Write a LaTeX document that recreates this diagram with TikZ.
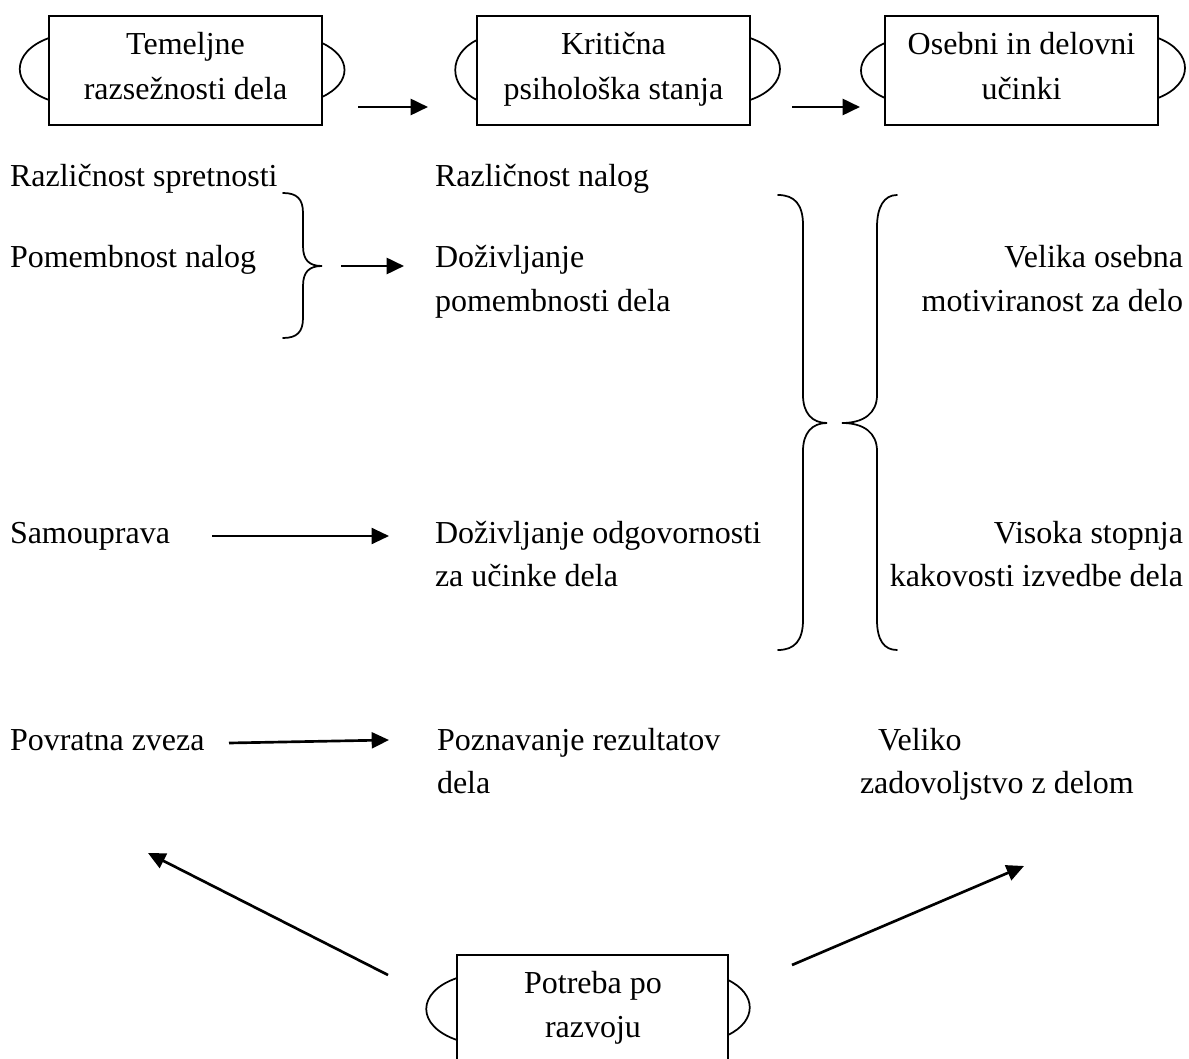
\documentclass[tikz,border=0pt]{standalone}
\usepackage{fontspec}
\setmainfont{Liberation Serif}
\usetikzlibrary{arrows.meta,calc}
\begin{document}
\begin{tikzpicture}[x=0.75pt,y=-0.75pt,
  lbl/.style={inner sep=0pt,outer sep=0pt,font=\fontsize{24pt}{32pt}\selectfont},
  hbox/.style={draw,line width=1.5,inner sep=0pt,minimum width=273*0.75pt,minimum height=109*0.75pt},
  ear/.style={line width=1.3},
  brace/.style={line width=1.3,line cap=round},
  arr/.style={line width=2,-{Triangle[length=13pt,width=12pt]}}]
\useasboundingbox (0,0) rectangle (1189,1059);
\clip (0,0) rectangle (1189,1059);

% header boxes
\node[hbox] (b1) at (185.5,70.5) {};
\node[hbox] (b2) at (613.5,70.5) {};
\node[hbox] (b3) at (1021.5,70.5) {};
\node[hbox,minimum width=271*0.75pt,minimum height=120*0.75pt] (b4) at (592.5,1015) {};

% side ears of the boxes
\draw[ear] (49,38) .. controls (10,52) and (10,86) .. (49,100);
\draw[ear] (322,43) .. controls (352,57) and (352,83) .. (322,97);
\draw[ear] (477,40) .. controls (448,54) and (448,86) .. (477,100);
\draw[ear] (750,38) .. controls (790,52) and (790,86) .. (750,100);
\draw[ear] (885,43) .. controls (853,57) and (853,84) .. (885,98);
\draw[ear] (1158,38) .. controls (1194,52) and (1194,84) .. (1158,98);
\draw[ear] (457,978) .. controls (416,992) and (416,1026) .. (457,1040);
\draw[ear] (728,980) .. controls (757,994) and (757,1021) .. (728,1035);

% box titles
\node[lbl,anchor=base] (h1a) at (185.5,55) {Temeljne};
\node[lbl,anchor=base] (h1b) at (185.5,100) {razsežnosti dela};
\node[lbl,anchor=base] (h2a) at (613.5,55) {Kritična};
\node[lbl,anchor=base] (h2b) at (613.5,100) {psihološka stanja};
\node[lbl,anchor=base] (h3a) at (1021.5,55) {Osebni in delovni};
\node[lbl,anchor=base] (h3b) at (1021.5,100) {učinki};
\node[lbl,anchor=base] (h4a) at (593,993) {Potreba po};
\node[lbl,anchor=base] (h4b) at (593,1037) {razvoju};

% left column
\node[lbl,anchor=base west] (l1) at (10,187) {Različnost spretnosti};
\node[lbl,anchor=base west] (l2) at (10,268) {Pomembnost nalog};
\node[lbl,anchor=base west] (l3) at (10,543) {Samouprava};
\node[lbl,anchor=base west] (l4) at (10,750) {Povratna zveza};

% middle column
\node[lbl,anchor=base west] (m1) at (435,187) {Različnost nalog};
\node[lbl,anchor=base west] (m2a) at (435,268) {Doživljanje};
\node[lbl,anchor=base west] (m2b) at (435,312) {pomembnosti dela};
\node[lbl,anchor=base west] (m3a) at (435,543) {Doživljanje odgovornosti};
\node[lbl,anchor=base west] (m3b) at (435,586) {za učinke dela};
\node[lbl,anchor=base west] (m4a) at (437,750) {Poznavanje rezultatov};
\node[lbl,anchor=base west] (m4b) at (437,793) {dela};

% right column
\node[lbl,anchor=base east] (r1a) at (1183,268) {Velika osebna};
\node[lbl,anchor=base east] (r1b) at (1183,312) {motiviranost za delo};
\node[lbl,anchor=base east] (r2a) at (1183,543) {Visoka stopnja};
\node[lbl,anchor=base east] (r2b) at (1183,586) {kakovosti izvedbe dela};
\node[lbl,anchor=base west] (r3a) at (878,750) {Veliko};
\node[lbl,anchor=base west] (r3b) at (860,793) {zadovoljstvo z delom};

% small brace
\draw[brace] (283,193) .. controls (297,193) and (303,199) .. (303,213) -- (303,246)
  .. controls (303,260) and (309,266) .. (322,266)
  .. controls (309,266) and (303,272) .. (303,286) -- (303,318)
  .. controls (303,332) and (297,338) .. (283,338);

% large closing brace
\draw[brace] (778,195) .. controls (795,195) and (803,205) .. (803,225) -- (803,395)
  .. controls (803,413) and (812,423) .. (827,423)
  .. controls (812,423) and (803,433) .. (803,451) -- (803,620)
  .. controls (803,640) and (795,650) .. (778,650);

% large opening brace
\draw[brace] (897,195) .. controls (884,195) and (877,207) .. (877,227) -- (877,395)
  .. controls (877,413) and (864,423) .. (842,423)
  .. controls (864,423) and (877,433) .. (877,451) -- (877,620)
  .. controls (877,640) and (884,650) .. (897,650);

% arrow end points
\coordinate (a1s) at (358,107);
\coordinate (a1e) at (428,107);
\coordinate (a2s) at (792,107);
\coordinate (a2e) at (860,107);
\coordinate (a3s) at (341,266);
\coordinate (a3e) at (404,266);
\coordinate (a4s) at (212,536);
\coordinate (a4e) at (389,536);
\coordinate (a5s) at (229,743);
\coordinate (a5e) at (389,740);
\coordinate (a6s) at (388,975);
\coordinate (a6e) at (148,853);
\coordinate (a7s) at (792,965);
\coordinate (a7e) at (1024,866);

\draw[arr] (a1s) -- (a1e);
\draw[arr] (a2s) -- (a2e);
\draw[arr] (a3s) -- (a3e);
\draw[arr,line width=1.5] (a4s) -- (a4e);
\draw[arr] (a5s) -- (a5e);
\draw[arr] (a6s) -- (a6e);
\draw[arr] (a7s) -- (a7e);
\end{tikzpicture}
\end{document}
